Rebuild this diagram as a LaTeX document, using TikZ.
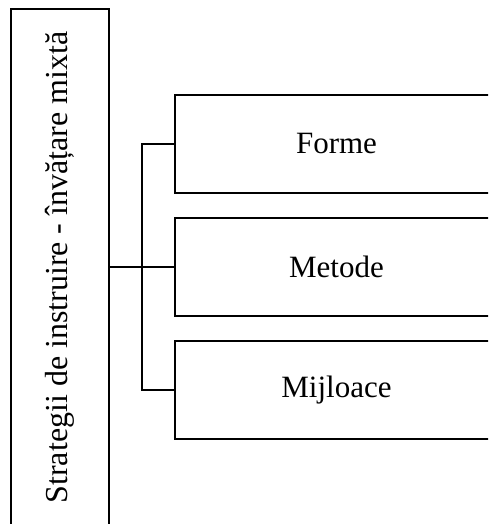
\documentclass[tikz,border=0pt]{standalone}
\usepackage{fontspec}
\setmainfont{Liberation Serif}
\usetikzlibrary{positioning}

\tikzset{
  cutie/.style={draw, line width=2pt, minimum width=323pt, minimum height=98pt,
    inner sep=0pt, font=\fontsize{31}{37}\selectfont},
  legatura/.style={line width=2pt}
}

\begin{document}
\begin{tikzpicture}[x=1pt, y=-1pt]
    \useasboundingbox (0,0) rectangle (488,524);
    \clip (0,0) rectangle (488,524);

    % Cutia principala (text vertical)
    \node[draw, line width=2pt, rotate=90, minimum width=517pt, minimum height=98pt,
      inner sep=0pt, font=\fontsize{32}{38}\selectfont] (strategii) at (60,267.5)
      {Strategii de instruire - învățare mixtă};

    % Cutiile din dreapta
    \node[cutie, anchor=west] (forme) at (174,144) {Forme};
    \node[cutie, anchor=west] (metode) at (174,267) {Metode};
    \node[cutie, anchor=west] (mijloace) at (174,390) {Mijloace};

    % Legaturi
    \coordinate (ramura) at (142,267);
    \draw[legatura] (strategii.south |- metode.west) -- (metode.west);
    \draw[legatura] (forme.west) -| (ramura) |- (mijloace.west);
\end{tikzpicture}
\end{document}
